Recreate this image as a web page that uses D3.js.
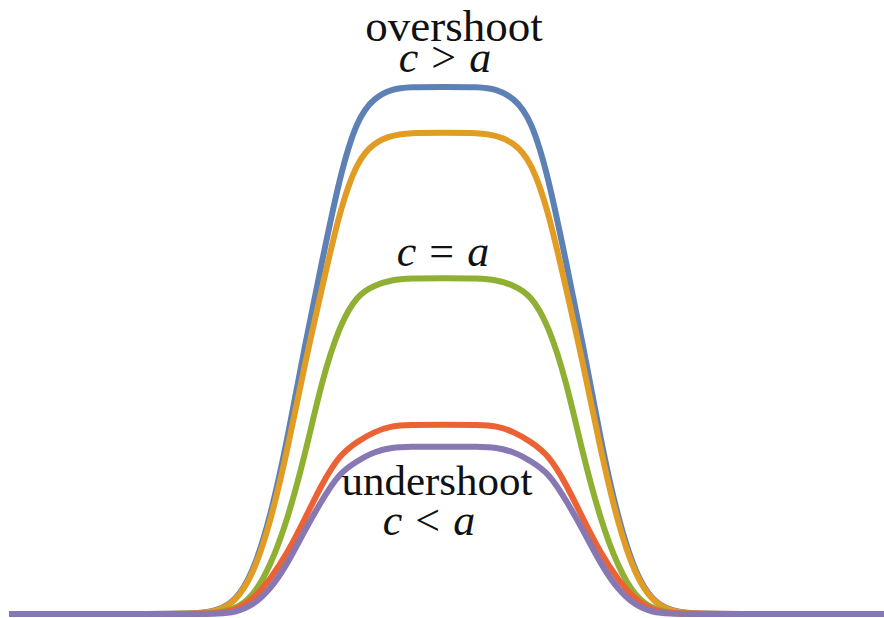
<!DOCTYPE html>
<html>
<head>
<meta charset="utf-8">
<script src="https://cdn.jsdelivr.net/npm/d3@7"></script>
<style>
  html, body { margin: 0; padding: 0; background: #fff; }
  svg { display: block; }
  text { font-family: "Liberation Serif", "DejaVu Serif", serif; fill: #111; }
</style>
</head>
<body>
<svg id="chart" width="884" height="618"></svg>
<script>
// Position along the pulse (0 = centre of the pulse)
const xs = [-5, -3.2, -2.8, -2.6, -2.4, -2.2, -2.0, -1.8, -1.6, -1.4, -1.2, -1.0, -0.8, -0.6, -0.4, 0,
            0.4, 0.6, 0.8, 1.0, 1.2, 1.4, 1.6, 1.8, 2.0, 2.2, 2.4, 2.6, 2.8, 3.2, 5.1];

// Response amplitude for each ratio of c to a
const blueVals   = [0, 0, 0.001, 0.007, 0.024, 0.076, 0.18, 0.33, 0.51, 0.67, 0.83, 0.94, 0.98, 0.996, 1.0, 1.0,
                    1.0, 0.996, 0.98, 0.94, 0.83, 0.67, 0.51, 0.33, 0.18, 0.076, 0.024, 0.007, 0.001, 0, 0];
const orangeVals = [0, 0, 0.001, 0.006, 0.023, 0.072, 0.17, 0.31, 0.475, 0.62, 0.765, 0.86, 0.895, 0.908, 0.913, 0.913,
                    0.913, 0.908, 0.895, 0.86, 0.765, 0.62, 0.475, 0.31, 0.17, 0.072, 0.023, 0.006, 0.001, 0, 0];
const greenVals  = [0, 0, 0, 0.0025, 0.0096, 0.032, 0.089, 0.178, 0.30, 0.446, 0.548, 0.605, 0.624, 0.634, 0.637, 0.637,
                    0.637, 0.634, 0.624, 0.605, 0.548, 0.446, 0.30, 0.178, 0.089, 0.032, 0.0096, 0.0025, 0, 0, 0];
const redVals    = [0, 0, 0, 0.002, 0.007, 0.027, 0.065, 0.115, 0.18, 0.248, 0.302, 0.327, 0.346, 0.357, 0.359, 0.359,
                    0.359, 0.357, 0.346, 0.327, 0.302, 0.248, 0.18, 0.115, 0.065, 0.027, 0.007, 0.002, 0, 0, 0];
const purpleVals = [0, 0, 0, 0.0006, 0.003, 0.016, 0.046, 0.095, 0.159, 0.217, 0.268, 0.29, 0.308, 0.316, 0.3175, 0.3175,
                    0.3175, 0.316, 0.308, 0.29, 0.268, 0.217, 0.159, 0.095, 0.046, 0.016, 0.003, 0.0006, 0, 0, 0];

const seriesNames  = ["c > a (large)", "c > a", "c = a", "c < a", "c < a (small)"];
const seriesValues = [blueVals, orangeVals, greenVals, redVals, purpleVals];
const seriesColors = ["#5E81B5", "#E19C24", "#8FB032", "#EB6235", "#8778B3"];

const svg = d3.select("#chart");

const x = d3.scaleLinear().domain([-5, 5]).range([9, 879]);
const y = d3.scaleLinear().domain([0, 1]).range([614, 87]);

// B-spline through the samples gives the soft shoulders of the pulses
const line = d3.line()
  .x((d, i) => x(xs[i]))
  .y(d => y(d))
  .curve(d3.curveBasis);

svg.append("g")
  .selectAll("path")
  .data(seriesValues)
  .join("path")
  .attr("d", line)
  .attr("fill", "none")
  .attr("stroke", (d, i) => seriesColors[i])
  .attr("stroke-width", 6)
  .attr("stroke-linejoin", "round")
  .append("title").text((d, i) => seriesNames[i]);

// Annotations: words in roman, relations as c <op> a with italic letters
function word(cx, by, size, s) {
  svg.append("text")
    .attr("x", cx)
    .attr("y", by)
    .attr("text-anchor", "middle")
    .attr("font-size", size)
    .text(s);
}

function relation(cx, by, size, op) {
  const t = svg.append("text")
    .attr("x", cx)
    .attr("y", by)
    .attr("text-anchor", "middle")
    .attr("font-size", size);
  t.append("tspan").attr("font-style", "italic").text("c");
  t.append("tspan").attr("dx", 13).text(op);
  t.append("tspan").attr("dx", 13).attr("font-style", "italic").text("a");
}

word(454, 41, 45, "overshoot");
relation(445, 72, 44, ">");
relation(443, 266, 44, "=");
word(437, 495, 43, "undershoot");
relation(429, 535, 44, "<");
</script>
</body>
</html>
